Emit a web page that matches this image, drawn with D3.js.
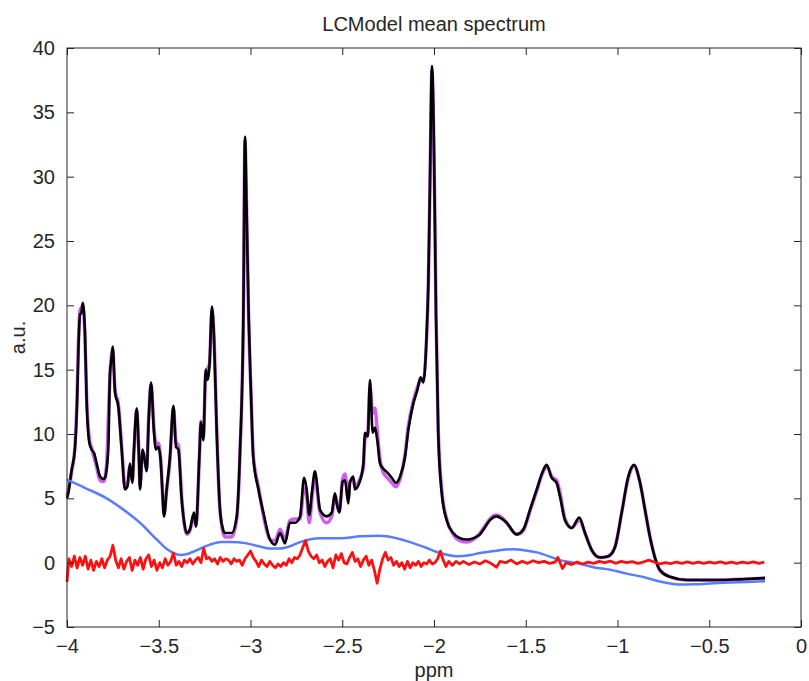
<!DOCTYPE html>
<html>
<head>
<meta charset="utf-8">
<script src="https://cdn.jsdelivr.net/npm/d3@7"></script>
<style>
  body { margin: 0; background: #fff; }
  text { font-family: "Liberation Sans", Arial, Helvetica, sans-serif; fill: #262626; }
</style>
</head>
<body>
<svg width="809" height="681"></svg>
<script>
// ---- data (ppm, a.u.) ----
const xTicks = [-4, -3.5, -3, -2.5, -2, -1.5, -1, -0.5, 0];
const yTicks = [-5, 0, 5, 10, 15, 20, 25, 30, 35, 40];

// measured spectrum (black)
const spectrum = [
  [-4.000, 5.0], [-3.993, 5.4], [-3.975, 7.2], [-3.957, 8.8], [-3.945, 12.5], [-3.938, 16.5],
  [-3.929, 19.3], [-3.922, 19.4], [-3.914, 20.2], [-3.902, 17.8], [-3.893, 12.6], [-3.878, 9.3],
  [-3.866, 8.8], [-3.852, 8.5], [-3.838, 7.7], [-3.820, 6.7], [-3.800, 6.5], [-3.793, 6.6],
  [-3.775, 8.8], [-3.766, 14.7], [-3.758, 15.8], [-3.751, 16.8], [-3.738, 13.2], [-3.720, 12.1],
  [-3.702, 8.8], [-3.684, 5.7], [-3.671, 5.9], [-3.657, 7.7], [-3.644, 6.2], [-3.635, 8.8],
  [-3.620, 12.0], [-3.608, 8.2], [-3.602, 5.7], [-3.588, 8.8], [-3.577, 8.0], [-3.566, 7.1],
  [-3.555, 11.0], [-3.542, 14.0], [-3.526, 10.1], [-3.515, 8.8], [-3.502, 9.0], [-3.489, 7.8],
  [-3.480, 5.5], [-3.471, 3.6], [-3.457, 5.7], [-3.439, 8.2], [-3.420, 12.2], [-3.406, 9.0],
  [-3.393, 8.8], [-3.375, 4.9], [-3.360, 3.0], [-3.348, 2.3], [-3.330, 2.6], [-3.308, 3.9],
  [-3.297, 2.8], [-3.279, 8.2], [-3.270, 10.9], [-3.257, 9.5], [-3.244, 15.0], [-3.233, 14.2],
  [-3.224, 15.2], [-3.210, 19.9], [-3.199, 17.5], [-3.184, 10.1], [-3.166, 4.1], [-3.150, 2.6],
  [-3.139, 2.3], [-3.103, 2.3], [-3.075, 3.6], [-3.057, 8.8], [-3.039, 19.1], [-3.030, 33.1],
  [-3.022, 28.0], [-3.010, 19.1], [-2.997, 13.0], [-2.985, 8.2], [-2.957, 5.7], [-2.930, 3.9],
  [-2.894, 1.8], [-2.866, 1.4], [-2.839, 2.3], [-2.812, 1.5], [-2.785, 3.1], [-2.757, 3.1],
  [-2.730, 3.6], [-2.708, 6.6], [-2.694, 5.7], [-2.680, 3.7], [-2.665, 5.5], [-2.649, 7.1],
  [-2.621, 4.1], [-2.585, 3.6], [-2.557, 3.9], [-2.540, 5.4], [-2.530, 4.6], [-2.516, 3.9],
  [-2.498, 6.3], [-2.485, 6.4], [-2.467, 4.6], [-2.458, 6.2], [-2.440, 6.7], [-2.431, 5.7],
  [-2.407, 6.2], [-2.385, 7.7], [-2.376, 10.1], [-2.361, 9.8], [-2.349, 14.2], [-2.334, 10.1],
  [-2.322, 10.5], [-2.309, 9.5], [-2.294, 7.7], [-2.276, 7.3], [-2.254, 7.0], [-2.230, 6.6],
  [-2.207, 6.2], [-2.185, 6.7], [-2.158, 8.2], [-2.140, 10.3], [-2.112, 12.4], [-2.091, 13.4],
  [-2.073, 14.4], [-2.058, 14.0], [-2.040, 17.8], [-2.031, 21.7], [-2.022, 29.5], [-2.011, 38.6],
  [-2.000, 32.1], [-1.989, 19.1], [-1.977, 10.1], [-1.958, 5.4], [-1.931, 3.3], [-1.895, 2.3],
  [-1.858, 1.9], [-1.820, 1.8], [-1.786, 1.9], [-1.749, 2.2], [-1.720, 2.8], [-1.695, 3.3],
  [-1.658, 3.6], [-1.630, 3.4], [-1.604, 3.1], [-1.550, 2.2], [-1.513, 2.6], [-1.477, 4.1],
  [-1.440, 5.7], [-1.404, 7.2], [-1.386, 7.6], [-1.359, 6.6], [-1.332, 6.2], [-1.313, 5.1],
  [-1.286, 3.3], [-1.250, 2.7], [-1.208, 3.5], [-1.177, 2.3], [-1.141, 1.0], [-1.095, 0.4],
  [-1.050, 0.5], [-1.014, 1.2], [-0.977, 3.9], [-0.941, 6.7], [-0.910, 7.6], [-0.877, 6.2],
  [-0.850, 4.1], [-0.823, 2.0], [-0.796, 0.4], [-0.768, -0.6], [-0.714, -1.1], [-0.623, -1.35],
  [-0.478, -1.35], [-0.296, -1.27], [-0.196, -1.2]
];

// LCModel fit (magenta, mostly hidden under the data)
const fit = [
  [-4.000, 5.2], [-3.993, 5.6], [-3.975, 7.0], [-3.957, 9.0], [-3.945, 13.0], [-3.938, 17.0],
  [-3.929, 19.6], [-3.914, 19.9], [-3.902, 17.5], [-3.893, 12.8], [-3.878, 9.6], [-3.866, 8.9],
  [-3.838, 7.4], [-3.820, 6.4], [-3.800, 6.3], [-3.785, 7.5], [-3.770, 13.0], [-3.760, 15.8],
  [-3.751, 16.5], [-3.738, 13.4], [-3.720, 12.3], [-3.702, 9.0], [-3.684, 5.9], [-3.671, 6.1],
  [-3.657, 7.5], [-3.644, 6.4], [-3.635, 8.6], [-3.620, 11.8], [-3.608, 8.4], [-3.602, 6.0],
  [-3.588, 8.6], [-3.577, 8.1], [-3.566, 7.3], [-3.555, 11.2], [-3.542, 13.8], [-3.526, 10.5],
  [-3.515, 9.2], [-3.502, 9.3], [-3.489, 8.0], [-3.471, 3.8], [-3.457, 5.6], [-3.439, 8.0],
  [-3.420, 12.0], [-3.406, 9.4], [-3.393, 9.1], [-3.375, 5.1], [-3.348, 2.2], [-3.330, 2.5],
  [-3.308, 3.7], [-3.297, 2.9], [-3.279, 8.0], [-3.270, 11.0], [-3.257, 9.7], [-3.244, 14.8],
  [-3.224, 15.4], [-3.210, 19.6], [-3.199, 17.6], [-3.184, 10.3], [-3.166, 4.0], [-3.139, 2.0],
  [-3.103, 2.0], [-3.075, 3.4], [-3.057, 8.6], [-3.039, 19.0], [-3.030, 32.8], [-3.022, 28.0],
  [-3.010, 19.0], [-2.997, 13.0], [-2.985, 8.4], [-2.957, 5.9], [-2.930, 3.7], [-2.894, 1.8],
  [-2.866, 1.7], [-2.839, 2.6], [-2.812, 1.8], [-2.785, 3.3], [-2.757, 3.4], [-2.730, 3.4],
  [-2.708, 5.8], [-2.694, 5.2], [-2.680, 3.1], [-2.665, 5.0], [-2.649, 6.7], [-2.621, 3.9],
  [-2.585, 3.1], [-2.557, 3.6], [-2.540, 5.2], [-2.516, 4.0], [-2.498, 6.5], [-2.485, 6.9],
  [-2.467, 5.0], [-2.458, 6.3], [-2.440, 6.5], [-2.431, 5.9], [-2.407, 6.4], [-2.385, 7.4],
  [-2.376, 9.6], [-2.361, 10.0], [-2.349, 13.6], [-2.334, 11.6], [-2.322, 12.0], [-2.309, 10.2],
  [-2.294, 8.0], [-2.276, 7.0], [-2.254, 6.6], [-2.230, 6.2], [-2.207, 5.9], [-2.185, 6.5],
  [-2.158, 8.4], [-2.140, 10.6], [-2.112, 12.6], [-2.091, 13.6], [-2.073, 14.2], [-2.058, 14.3],
  [-2.040, 17.6], [-2.031, 21.5], [-2.022, 29.3], [-2.011, 38.2], [-2.000, 32.0], [-1.989, 19.3],
  [-1.977, 10.4], [-1.958, 5.7], [-1.931, 3.4], [-1.895, 2.2], [-1.858, 1.7], [-1.820, 1.6],
  [-1.786, 1.8], [-1.749, 2.3], [-1.720, 2.9], [-1.695, 3.4], [-1.658, 3.7], [-1.630, 3.5],
  [-1.604, 3.1], [-1.550, 2.2], [-1.513, 2.5], [-1.477, 4.0], [-1.440, 5.6], [-1.404, 7.1],
  [-1.386, 7.5], [-1.359, 6.7], [-1.332, 6.4], [-1.313, 5.4], [-1.286, 3.4], [-1.250, 2.7],
  [-1.208, 3.3], [-1.177, 2.3], [-1.141, 1.0], [-1.095, 0.4], [-1.050, 0.5], [-1.014, 1.2],
  [-0.977, 3.9], [-0.941, 6.6], [-0.910, 7.5], [-0.877, 6.2], [-0.850, 4.1], [-0.823, 2.0],
  [-0.796, 0.4], [-0.768, -0.6], [-0.714, -1.1], [-0.623, -1.35], [-0.478, -1.35], [-0.296, -1.27],
  [-0.196, -1.2]
];

// baseline (blue)
const baseline = [
  [-4.000, 6.45], [-3.900, 5.8], [-3.784, 5.0], [-3.700, 4.2], [-3.602, 3.1], [-3.511, 1.8],
  [-3.450, 1.0], [-3.420, 0.75], [-3.384, 0.6], [-3.350, 0.65], [-3.313, 0.85], [-3.221, 1.4],
  [-3.160, 1.6], [-3.112, 1.6], [-3.021, 1.5], [-2.950, 1.25], [-2.894, 1.1], [-2.840, 1.1],
  [-2.780, 1.3], [-2.730, 1.6], [-2.621, 1.9], [-2.512, 1.9], [-2.400, 2.05], [-2.300, 2.1],
  [-2.258, 2.05], [-2.131, 1.6], [-2.050, 1.2], [-1.967, 0.75], [-1.877, 0.5], [-1.800, 0.6],
  [-1.749, 0.75], [-1.650, 0.95], [-1.568, 1.05], [-1.500, 0.95], [-1.440, 0.8], [-1.313, 0.2],
  [-1.200, -0.1], [-1.132, -0.35], [-1.040, -0.55], [-0.950, -0.85], [-0.850, -1.15], [-0.787, -1.4],
  [-0.720, -1.6], [-0.659, -1.7], [-0.580, -1.68], [-0.478, -1.6], [-0.296, -1.5], [-0.196, -1.45]
];

// residual (red)
const residual = [
  [-4.000, -1.5], [-3.990, 0.3], [-3.975, -0.3], [-3.960, 0.5], [-3.945, -0.4], [-3.930, 0.4],
  [-3.915, -0.2], [-3.900, 0.5], [-3.885, -0.5], [-3.870, 0.2], [-3.855, -0.6], [-3.840, 0.1],
  [-3.825, -0.3], [-3.810, 0.3], [-3.795, -0.4], [-3.780, 0.2], [-3.765, 0.5], [-3.750, 1.35],
  [-3.735, 0.2], [-3.720, -0.4], [-3.705, 0.3], [-3.690, -0.5], [-3.675, 0.1], [-3.660, 0.4],
  [-3.645, -0.6], [-3.630, 0.2], [-3.615, -0.2], [-3.600, 0.4], [-3.585, -0.5], [-3.570, 0.3],
  [-3.555, 0.6], [-3.540, -0.3], [-3.525, 0.2], [-3.510, -0.6], [-3.495, 0.0], [-3.480, -0.4],
  [-3.465, 0.3], [-3.450, -0.2], [-3.435, 0.1], [-3.420, 0.75], [-3.405, -0.2], [-3.390, 0.1],
  [-3.375, -0.3], [-3.360, 0.2], [-3.345, 0.0], [-3.330, 0.3], [-3.315, -0.1], [-3.300, 0.2],
  [-3.285, 0.4], [-3.270, 0.0], [-3.255, 1.1], [-3.240, 0.3], [-3.225, 0.4], [-3.210, 0.1],
  [-3.195, 0.3], [-3.180, -0.1], [-3.165, 0.4], [-3.150, 0.1], [-3.135, 0.3], [-3.120, 0.2],
  [-3.105, -0.1], [-3.090, 0.3], [-3.075, 0.1], [-3.060, 0.2], [-3.045, -0.2], [-3.030, 0.3],
  [-3.015, 0.6], [-3.000, 0.9], [-2.985, 0.4], [-2.970, 0.1], [-2.955, -0.3], [-2.940, 0.2],
  [-2.925, -0.1], [-2.910, -0.3], [-2.895, 0.1], [-2.880, -0.2], [-2.865, -0.4], [-2.850, -0.1],
  [-2.835, -0.3], [-2.820, 0.0], [-2.805, -0.2], [-2.790, 0.3], [-2.775, 0.0], [-2.760, 0.4],
  [-2.745, 0.3], [-2.730, 0.6], [-2.715, 1.2], [-2.700, 1.7], [-2.685, 0.9], [-2.670, 0.5],
  [-2.655, 0.3], [-2.640, 0.6], [-2.625, 0.0], [-2.610, 0.2], [-2.595, -0.3], [-2.580, 0.1],
  [-2.565, 0.3], [-2.550, -0.4], [-2.535, 0.6], [-2.520, 0.2], [-2.505, 0.7], [-2.490, 0.0],
  [-2.475, -0.1], [-2.460, 0.4], [-2.445, 0.8], [-2.430, 0.1], [-2.415, 0.3], [-2.400, -0.3],
  [-2.385, 0.2], [-2.370, 0.5], [-2.355, -0.2], [-2.340, 0.2], [-2.325, -0.6], [-2.310, -1.6],
  [-2.295, -0.5], [-2.280, 0.3], [-2.265, 0.8], [-2.250, 0.2], [-2.235, 0.4], [-2.220, -0.2],
  [-2.205, 0.1], [-2.190, -0.3], [-2.175, 0.0], [-2.160, -0.5], [-2.145, 0.1], [-2.130, -0.4],
  [-2.115, 0.0], [-2.100, -0.2], [-2.085, 0.1], [-2.070, -0.3], [-2.055, 0.0], [-2.040, -0.1],
  [-2.025, 0.2], [-2.010, -0.1], [-1.995, 0.0], [-1.980, 0.3], [-1.965, 0.9], [-1.950, 0.2],
  [-1.935, -0.3], [-1.920, 0.1], [-1.900, -0.2], [-1.880, 0.1], [-1.860, -0.1], [-1.840, 0.1],
  [-1.810, -0.15], [-1.780, 0.05], [-1.750, -0.1], [-1.720, 0.15], [-1.690, -0.05], [-1.660, -0.35],
  [-1.640, 0.1], [-1.610, 0.0], [-1.580, 0.2], [-1.550, -0.1], [-1.520, 0.1], [-1.490, -0.05],
  [-1.460, 0.15], [-1.430, 0.0], [-1.400, 0.1], [-1.370, -0.05], [-1.340, 0.05], [-1.325, 0.4],
  [-1.310, -0.1], [-1.300, -0.45], [-1.280, 0.0], [-1.250, -0.15], [-1.220, 0.05], [-1.190, -0.1],
  [-1.160, 0.05], [-1.130, -0.05], [-1.100, 0.1], [-1.070, 0.0], [-1.040, 0.12], [-1.010, -0.05],
  [-0.980, 0.1], [-0.950, 0.0], [-0.920, 0.08], [-0.890, -0.05], [-0.860, 0.05], [-0.830, 0.2],
  [-0.800, 0.05], [-0.770, -0.1], [-0.740, 0.0], [-0.710, -0.08], [-0.680, 0.05], [-0.650, -0.05],
  [-0.620, 0.06], [-0.590, -0.06], [-0.560, 0.04], [-0.530, -0.05], [-0.500, 0.05], [-0.470, -0.04],
  [-0.440, 0.06], [-0.410, -0.05], [-0.380, 0.04], [-0.350, -0.06], [-0.320, 0.05], [-0.290, -0.04],
  [-0.260, 0.06], [-0.230, -0.05], [-0.200, 0.05]
];

const svg = d3.select('svg');
const margin = { top: 48, right: 8, bottom: 54, left: 67 };
const width = +svg.attr('width') - margin.left - margin.right;
const height = +svg.attr('height') - margin.top - margin.bottom;

const x = d3.scaleLinear().domain([-4, 0]).range([0, width]);
const y = d3.scaleLinear().domain([-5, 40]).range([height, 0]);

const g = svg.append('g').attr('transform', `translate(${margin.left},${margin.top})`);

const line = d3.line().x(d => x(d[0])).y(d => y(d[1]));
const smooth = d3.line().x(d => x(d[0])).y(d => y(d[1])).curve(d3.curveMonotoneX);

// curves
g.append('path').datum(fit).attr('d', smooth)
  .attr('fill', 'none').attr('stroke', '#cf5ef0').attr('stroke-width', 3.5).attr('stroke-linejoin', 'round');
g.append('path').datum(spectrum).attr('d', smooth)
  .attr('fill', 'none').attr('stroke', '#000').attr('stroke-width', 2.6).attr('stroke-linejoin', 'round');
g.append('path').datum(baseline).attr('d', smooth)
  .attr('fill', 'none').attr('stroke', '#5a7dff').attr('stroke-width', 2.5);
g.append('path').datum(residual).attr('d', line)
  .attr('fill', 'none').attr('stroke', '#ff1010').attr('stroke-width', 2.8).attr('stroke-linejoin', 'round');

// axes, MATLAB style: box with inward ticks on all sides
const tickLen = 7;
const fmt = d => d3.format('')(d).replace('-', '\u2212');

const xb = g.append('g').attr('transform', `translate(0,${height})`)
  .call(d3.axisBottom(x).tickValues(xTicks).tickSizeInner(-tickLen).tickSizeOuter(0).tickPadding(12).tickFormat(fmt));
const xt = g.append('g')
  .call(d3.axisTop(x).tickValues(xTicks).tickSizeInner(-tickLen).tickSizeOuter(0).tickFormat(''));
const yl = g.append('g')
  .call(d3.axisLeft(y).tickValues(yTicks).tickSizeInner(-tickLen).tickSizeOuter(0).tickPadding(12).tickFormat(fmt));
const yr = g.append('g').attr('transform', `translate(${width},0)`)
  .call(d3.axisRight(y).tickValues(yTicks).tickSizeInner(-tickLen).tickSizeOuter(0).tickFormat(''));

[xb, xt, yl, yr].forEach(a => {
  a.select('.domain').remove();
  a.selectAll('.tick line').attr('stroke', '#262626');
  a.selectAll('text').style('font-size', '20px').attr('fill', '#262626');
});
xb.selectAll('.tick line').attr('y1', 0).attr('y2', -tickLen);

g.append('rect').attr('width', width).attr('height', height)
  .attr('fill', 'none').attr('stroke', '#262626').attr('stroke-width', 1);

// labels
svg.append('text').attr('x', margin.left + width / 2).attr('y', 31)
  .attr('text-anchor', 'middle').style('font-size', '20px').text('LCModel mean spectrum');
svg.append('text').attr('x', margin.left + width / 2).attr('y', 677)
  .attr('text-anchor', 'middle').style('font-size', '20px').text('ppm');
svg.append('text').attr('transform', `translate(25,${margin.top + height / 2}) rotate(-90)`)
  .attr('text-anchor', 'middle').style('font-size', '20px').text('a.u.');
</script>
</body>
</html>
